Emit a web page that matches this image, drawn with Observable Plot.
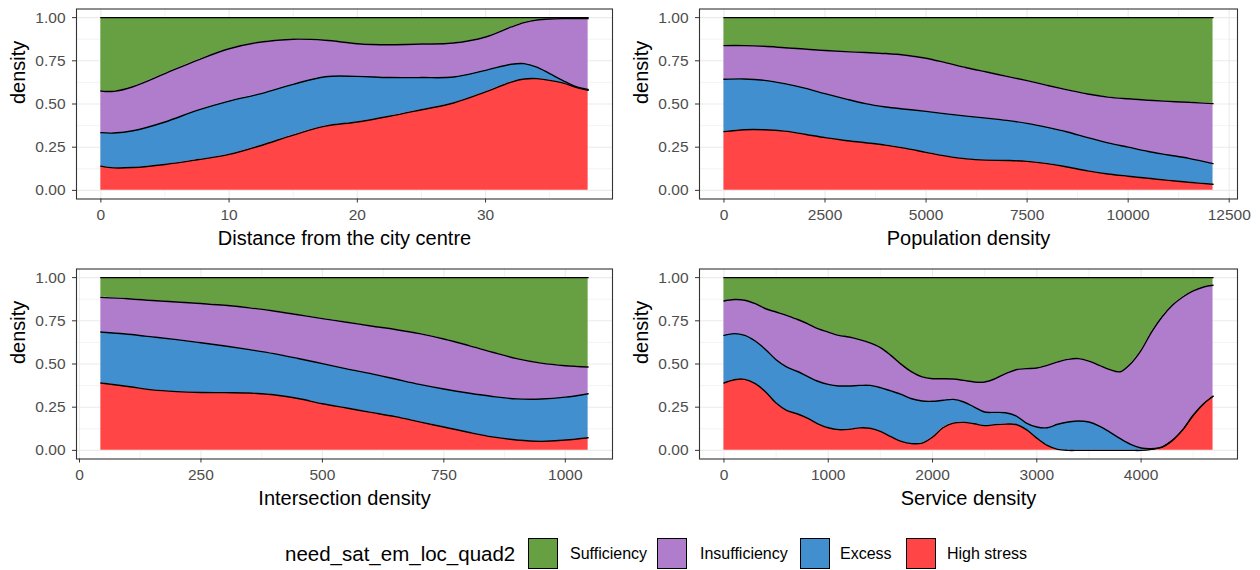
<!DOCTYPE html>
<html>
<head>
<meta charset="utf-8">
<script src="https://cdn.jsdelivr.net/npm/d3@7"></script>
<script src="https://cdn.jsdelivr.net/npm/@observablehq/plot@0.6"></script>
<style>
  body { margin: 0; background: #fff; font-family: "Liberation Sans", Arial, sans-serif; }
  #wrap { position: relative; width: 1260px; height: 570px; overflow: hidden; }
  .panel { position: absolute; }
  #legend { position: absolute; left: 0; top: 538px; width: 1260px; height: 31px; }
  #legend .title { position: absolute; left: 285px; top: 0; line-height: 31px; font-size: 20.5px; color: #000; white-space: nowrap; }
  #legend .key { position: absolute; top: 0; width: 28px; height: 29px; border: 1px solid #000; }
  #legend .lab { position: absolute; top: 0; line-height: 31px; font-size: 16px; color: #000; white-space: nowrap; }
</style>
</head>
<body>
<div id="wrap">
  <div class="panel" id="p1" style="left:0px;top:0px"></div>
  <div class="panel" id="p2" style="left:630px;top:0px"></div>
  <div class="panel" id="p3" style="left:0px;top:260px"></div>
  <div class="panel" id="p4" style="left:630px;top:260px"></div>
  <div id="legend"></div>
</div>
<script>
// ---------------- DATA ----------------
// Categories (legend order) and their fills
const categories = ["Sufficiency", "Insufficiency", "Excess", "High stress"];
const categoryColors = ["#66A043", "#B07CCC", "#418FCE", "#FF4545"];
const legendTitle = "need_sat_em_loc_quad2";
const yLabel = "density";

// Each band array = upper edge of that band in the stacked (fill) density.
// Sufficiency fills the rest up to 1.

// Panel 1: Distance from the city centre
const distTitle = "Distance from the city centre";
const distX = [0, 1, 2.5, 5, 7.5, 10, 12.5, 15, 17.5, 20, 22.5, 25, 27.5, 30, 32, 33, 34, 35, 36, 37, 38];
const distHighStress = [0.14, 0.13, 0.132, 0.15, 0.177, 0.208, 0.26, 0.32, 0.372, 0.396, 0.429, 0.467, 0.506, 0.57, 0.627, 0.645, 0.647, 0.637, 0.622, 0.598, 0.579];
const distExcess = [0.334, 0.332, 0.345, 0.396, 0.463, 0.517, 0.56, 0.614, 0.658, 0.66, 0.653, 0.653, 0.656, 0.695, 0.73, 0.734, 0.714, 0.676, 0.637, 0.602, 0.585];
const distInsufficiency = [0.575, 0.573, 0.6, 0.676, 0.753, 0.82, 0.859, 0.875, 0.869, 0.849, 0.843, 0.847, 0.853, 0.888, 0.946, 0.971, 0.986, 0.992, 0.994, 0.994, 0.994];
const distTicks = [0, 10, 20, 30];
const distMinor = [5, 15, 25, 35];

// Panel 2: Population density
const popTitle = "Population density";
const popX = [0, 500, 1000, 1500, 2000, 2500, 3000, 3500, 4000, 4500, 5000, 5500, 6000, 6500, 7000, 7500, 8000, 8500, 9000, 9500, 10000, 10500, 11000, 11500, 12100];
const popHighStress = [0.34, 0.351, 0.351, 0.343, 0.325, 0.305, 0.289, 0.276, 0.262, 0.243, 0.22, 0.198, 0.182, 0.175, 0.173, 0.168, 0.155, 0.135, 0.113, 0.095, 0.082, 0.07, 0.058, 0.047, 0.035];
const popExcess = [0.643, 0.645, 0.637, 0.618, 0.592, 0.56, 0.53, 0.502, 0.483, 0.47, 0.457, 0.443, 0.43, 0.418, 0.405, 0.388, 0.365, 0.338, 0.305, 0.275, 0.25, 0.225, 0.205, 0.185, 0.155];
const popInsufficiency = [0.838, 0.838, 0.834, 0.826, 0.818, 0.81, 0.803, 0.798, 0.792, 0.782, 0.765, 0.738, 0.71, 0.685, 0.66, 0.635, 0.608, 0.582, 0.558, 0.54, 0.53, 0.522, 0.515, 0.51, 0.502];
const popTicks = [0, 2500, 5000, 7500, 10000, 12500];
const popMinor = [1250, 3750, 6250, 8750, 11250];

// Panel 3: Intersection density
const interTitle = "Intersection density";
const interX = [44, 100, 150, 200, 250, 300, 350, 400, 450, 500, 550, 600, 650, 700, 750, 800, 850, 900, 950, 1000, 1047];
const interHighStress = [0.39, 0.37, 0.35, 0.34, 0.335, 0.334, 0.332, 0.322, 0.3, 0.27, 0.245, 0.22, 0.195, 0.165, 0.135, 0.105, 0.078, 0.06, 0.052, 0.06, 0.073];
const interExcess = [0.685, 0.672, 0.657, 0.641, 0.623, 0.604, 0.583, 0.56, 0.532, 0.502, 0.472, 0.444, 0.413, 0.382, 0.355, 0.332, 0.312, 0.298, 0.297, 0.308, 0.328];
const interInsufficiency = [0.886, 0.878, 0.868, 0.859, 0.85, 0.84, 0.825, 0.807, 0.785, 0.763, 0.742, 0.72, 0.7, 0.676, 0.645, 0.608, 0.568, 0.531, 0.505, 0.49, 0.483];
const interTicks = [0, 250, 500, 750, 1000];
const interMinor = [125, 375, 625, 875];

// Panel 4: Service density
const servTitle = "Service density";
const servX = [0, 100, 200, 300, 400, 500, 600, 700, 800, 900, 1000, 1100, 1200, 1300, 1400, 1500, 1600, 1700, 1800, 1900, 2000, 2100, 2200, 2300, 2400, 2500, 2600, 2700, 2800, 2900, 3000, 3100, 3200, 3300, 3400, 3500, 3600, 3700, 3800, 3900, 4000, 4100, 4200, 4300, 4400, 4500, 4600, 4690];
const servHighStress = [0.39, 0.409, 0.411, 0.386, 0.338, 0.274, 0.232, 0.212, 0.187, 0.154, 0.131, 0.12, 0.122, 0.13, 0.128, 0.11, 0.08, 0.052, 0.039, 0.042, 0.077, 0.131, 0.158, 0.162, 0.154, 0.143, 0.149, 0.152, 0.15, 0.12, 0.071, 0.029, 0.006, 0, 0, 0, 0, 0, 0, 0, 0, 0.006, 0.019, 0.058, 0.12, 0.203, 0.27, 0.313];
const servExcess = [0.666, 0.676, 0.666, 0.633, 0.583, 0.525, 0.483, 0.458, 0.429, 0.40, 0.382, 0.373, 0.373, 0.376, 0.376, 0.363, 0.344, 0.324, 0.299, 0.286, 0.284, 0.29, 0.295, 0.28, 0.251, 0.222, 0.22, 0.218, 0.2, 0.158, 0.135, 0.131, 0.151, 0.164, 0.17, 0.164, 0.141, 0.106, 0.068, 0.035, 0.014, 0.01, 0.019, 0.058, 0.12, 0.203, 0.27, 0.313];
const servInsufficiency = [0.865, 0.873, 0.869, 0.849, 0.82, 0.801, 0.782, 0.759, 0.734, 0.705, 0.685, 0.666, 0.656, 0.641, 0.622, 0.595, 0.55, 0.498, 0.454, 0.425, 0.415, 0.415, 0.413, 0.405, 0.396, 0.396, 0.415, 0.444, 0.467, 0.473, 0.477, 0.492, 0.512, 0.527, 0.531, 0.517, 0.492, 0.467, 0.455, 0.502, 0.579, 0.685, 0.772, 0.84, 0.888, 0.923, 0.946, 0.956];
const servTicks = [0, 1000, 2000, 3000, 4000];
const servMinor = [500, 1500, 2500, 3500, 4500];

// Shared y axis
const yTicks = [0, 0.25, 0.5, 0.75, 1];
const yMinor = [0.125, 0.375, 0.625, 0.875];

// ---------------- DRAWING ----------------
const FONT = '"Liberation Sans", Arial, Helvetica, sans-serif';

function makePanel(p, side) {
  const rows = p.x.map((x, i) => ({x, hs: p.hs[i], ex: p.ex[i], ins: p.ins[i], base: 0, top: 1}));
  const [lo, hi] = d3.extent(p.x);
  const pad = (hi - lo) * 0.05;
  const curve = "catmull-rom";
  const gridColor = "#EBEBEB";
  return Plot.plot({
    width: 630,
    height: 258,
    marginTop: 8.5,
    marginBottom: 59.5,
    marginLeft: side === "left" ? 76 : 69,
    marginRight: side === "left" ? 18 : 23,
    style: {fontFamily: FONT, background: "white", overflow: "visible"},
    x: {domain: [lo - pad, hi + pad]},
    y: {domain: [-0.05, 1.05]},
    marks: [
      Plot.ruleX(p.minor, {stroke: gridColor, strokeWidth: 0.6}),
      Plot.ruleY(yMinor, {stroke: gridColor, strokeWidth: 0.6}),
      Plot.ruleX(p.ticks, {stroke: gridColor, strokeWidth: 1.1}),
      Plot.ruleY(yTicks, {stroke: gridColor, strokeWidth: 1.1}),
      Plot.areaY(rows, {x: "x", y1: "ins", y2: "top", fill: categoryColors[0], curve}),
      Plot.areaY(rows, {x: "x", y1: "ex", y2: "ins", fill: categoryColors[1], curve}),
      Plot.areaY(rows, {x: "x", y1: "hs", y2: "ex", fill: categoryColors[2], curve}),
      Plot.areaY(rows, {x: "x", y1: "base", y2: "hs", fill: categoryColors[3], curve}),
      Plot.lineY(rows, {x: "x", y: "hs", stroke: "#000", strokeWidth: 1.4, curve}),
      Plot.lineY(rows, {x: "x", y: "ex", stroke: "#000", strokeWidth: 1.4, curve}),
      Plot.lineY(rows, {x: "x", y: "ins", stroke: "#000", strokeWidth: 1.4, curve}),
      Plot.lineY(rows, {x: "x", y: "top", stroke: "#000", strokeWidth: 1.4, curve}),
      Plot.frame({stroke: "#333333", strokeWidth: 1.1}),
      Plot.axisX(p.ticks, {tickSize: 4, tickPadding: 6, fontSize: 15.5, stroke: "#333333", fill: "#4D4D4D", label: null, tickFormat: d => String(d)}),
      Plot.axisY(yTicks, {tickSize: 4, tickPadding: 7, fontSize: 15.5, stroke: "#333333", fill: "#4D4D4D", label: null, tickFormat: d3.format(".2f")}),
      Plot.text([p.title], {text: d => d, frameAnchor: "bottom", dy: 46, fontSize: 20, fill: "#000"}),
      Plot.text([yLabel], {text: d => d, frameAnchor: "left", dx: -58, rotate: -90, fontSize: 20, fill: "#000"})
    ]
  });
}

const panels = [
  {id: "p1", side: "left", title: distTitle, x: distX, hs: distHighStress, ex: distExcess, ins: distInsufficiency, ticks: distTicks, minor: distMinor},
  {id: "p2", side: "right", title: popTitle, x: popX, hs: popHighStress, ex: popExcess, ins: popInsufficiency, ticks: popTicks, minor: popMinor},
  {id: "p3", side: "left", title: interTitle, x: interX, hs: interHighStress, ex: interExcess, ins: interInsufficiency, ticks: interTicks, minor: interMinor},
  {id: "p4", side: "right", title: servTitle, x: servX, hs: servHighStress, ex: servExcess, ins: servInsufficiency, ticks: servTicks, minor: servMinor}
];
for (const p of panels) {
  document.getElementById(p.id).appendChild(makePanel(p, p.side));
}

// Legend (layout positions of keys and labels, in pixels)
const legendKeyLeft = [528, 657, 800, 906];
const legendLabelLeft = [570, 700, 840, 947];
const legend = document.getElementById("legend");
const t = document.createElement("span");
t.className = "title";
t.textContent = legendTitle;
legend.appendChild(t);
categories.forEach((c, i) => {
  const k = document.createElement("span");
  k.className = "key";
  k.style.background = categoryColors[i];
  k.style.left = legendKeyLeft[i] + "px";
  legend.appendChild(k);
  const l = document.createElement("span");
  l.className = "lab";
  l.textContent = c;
  l.style.left = legendLabelLeft[i] + "px";
  legend.appendChild(l);
});
</script>
</body>
</html>
